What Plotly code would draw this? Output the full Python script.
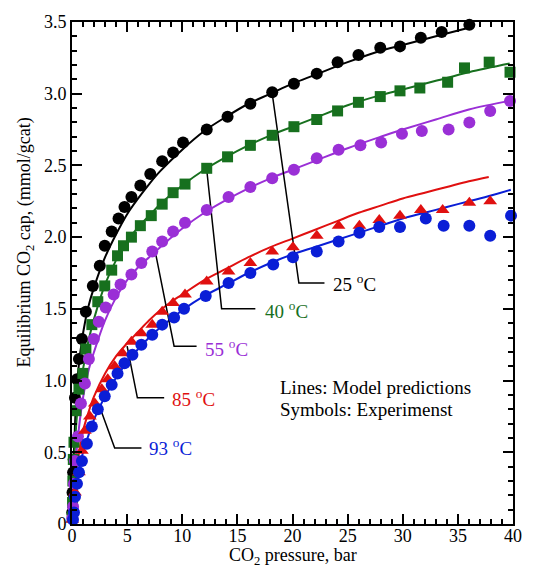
import plotly.graph_objects as go

# ---------------- data ----------------
# Experimental points (pressure in bar, capacity in mmol/gcat)
x25 = [0.02, 0.05, 0.1, 0.15, 0.27, 0.45, 0.63, 0.90, 1.26, 1.89, 2.52, 2.97, 3.60, 4.22, 4.76,
       5.39, 6.20, 7.10, 8.18, 9.17, 10.07, 12.22, 14.11, 16.18, 18.16, 20.13, 22.20, 24.09,
       25.98, 27.96, 29.75, 31.64, 33.53, 36.04]
y25 = [0.08, 0.22, 0.36, 0.45, 0.88, 1.01, 1.15, 1.29, 1.48, 1.66, 1.80, 1.94, 2.04, 2.13, 2.21,
       2.28, 2.36, 2.44, 2.53, 2.59, 2.66, 2.75, 2.84, 2.93, 3.01, 3.07, 3.14, 3.22,
       3.27, 3.32, 3.33, 3.39, 3.43, 3.48]

x40 = [0.02, 0.05, 0.08, 0.12, 0.18, 0.36, 0.63, 0.99, 1.26, 1.80, 2.34, 2.97, 3.60, 4.13, 4.67,
       5.39, 6.20, 7.19, 8.18, 9.17, 10.25, 12.22, 14.11, 16.18, 18.16, 20.13, 22.20, 24.09,
       25.98, 27.96, 29.75, 31.55, 34.07, 35.60, 37.84, 39.73]
y40 = [0.05, 0.15, 0.30, 0.45, 0.57, 0.79, 0.94, 1.05, 1.22, 1.39, 1.55, 1.66, 1.77, 1.87, 1.94,
       2.00, 2.08, 2.15, 2.23, 2.31, 2.37, 2.48, 2.56, 2.64, 2.71, 2.77, 2.82, 2.88,
       2.94, 2.98, 3.02, 3.04, 3.08, 3.18, 3.22, 3.15]

x55 = [0.03, 0.10, 0.18, 0.27, 0.54, 0.81, 1.17, 1.53, 1.98, 2.43, 3.06, 3.78, 4.40, 5.39, 6.29,
       7.28, 8.18, 9.17, 10.25, 12.22, 14.20, 16.18, 18.16, 20.13, 22.20, 24.18, 26.16, 28.04,
       29.93, 31.73, 34.16, 36.04, 37.93, 39.73]
y55 = [0.04, 0.12, 0.28, 0.44, 0.61, 0.84, 0.98, 1.15, 1.29, 1.41, 1.51, 1.60, 1.67, 1.74, 1.82,
       1.90, 1.97, 2.04, 2.10, 2.19, 2.28, 2.35, 2.41, 2.47, 2.55, 2.61, 2.64, 2.66,
       2.72, 2.74, 2.75, 2.80, 2.88, 2.95]

x85 = [0.02, 0.27, 0.63, 0.90, 1.17, 1.62, 2.07, 2.70, 3.24, 3.87, 4.58, 5.39, 6.29, 7.28, 8.18,
       9.17, 10.25, 12.22, 14.20, 16.18, 18.16, 20.04, 22.20, 24.18, 26.07, 27.87, 29.75,
       31.64, 33.62, 36.04, 37.93]
y85 = [0.03, 0.22, 0.36, 0.51, 0.65, 0.75, 0.84, 0.94, 1.01, 1.10, 1.19, 1.27, 1.33, 1.39, 1.48,
       1.54, 1.60, 1.69, 1.76, 1.82, 1.90, 1.93, 2.01, 2.08, 2.08, 2.12, 2.15,
       2.19, 2.19, 2.24, 2.25]

x93 = [0.09, 0.18, 0.27, 0.45, 0.63, 0.90, 1.35, 1.80, 2.34, 2.97, 3.60, 4.13, 4.76, 5.48, 6.29,
       7.28, 8.18, 9.26, 10.16, 12.13, 14.20, 16.18, 18.25, 20.04, 22.20, 24.18, 26.07, 27.87,
       29.75, 32.09, 33.71, 36.04, 37.93, 39.82]
y93 = [0.03, 0.08, 0.19, 0.28, 0.36, 0.44, 0.56, 0.68, 0.80, 0.89, 0.97, 1.05, 1.12, 1.18, 1.25,
       1.32, 1.39, 1.44, 1.50, 1.59, 1.68, 1.75, 1.81, 1.86, 1.90, 1.97, 2.03, 2.07,
       2.07, 2.13, 2.08, 2.08, 2.01, 2.15]

# Model predictions (lines)
mx25 = [0, 0.1, 0.2, 0.5, 1, 1.5, 2, 3, 4, 5, 6, 7, 8, 10, 12, 14, 16, 18, 20, 22, 25, 28, 30, 33, 36]
my25 = [0, 0.35, 0.55, 1.02, 1.33, 1.52, 1.65, 1.86, 2.02, 2.16, 2.27, 2.37, 2.46, 2.61, 2.74, 2.84,
        2.93, 3.00, 3.07, 3.13, 3.22, 3.30, 3.34, 3.40, 3.46]

mx40 = [0, 0.1, 0.2, 0.5, 1, 1.5, 2, 3, 4, 5, 6, 7, 8, 10, 12, 14, 16, 18, 20, 22, 25, 28, 30, 33, 36, 39.7]
my40 = [0, 0.28, 0.45, 0.80, 1.08, 1.28, 1.43, 1.67, 1.84, 1.97, 2.07, 2.15, 2.23, 2.36, 2.47, 2.56,
        2.64, 2.71, 2.77, 2.83, 2.92, 2.99, 3.03, 3.09, 3.15, 3.21]

mx55 = [0, 0.3, 0.6, 1, 1.5, 2, 3, 4, 5, 6, 7, 8, 10, 12, 14, 16, 18, 20, 22, 25, 28, 30, 33, 36, 39.7]
my55 = [0, 0.40, 0.65, 0.88, 1.07, 1.20, 1.42, 1.58, 1.70, 1.79, 1.86, 1.93, 2.06, 2.17, 2.26, 2.34,
        2.41, 2.47, 2.53, 2.62, 2.70, 2.75, 2.82, 2.89, 2.95]

mx85 = [0, 0.3, 0.7, 1, 1.5, 2, 3, 4, 5, 6, 7, 8, 9, 10, 12, 14, 16, 18, 20, 22, 24, 26, 28, 30, 32,
        34, 36, 37.8]
my85 = [0, 0.30, 0.53, 0.65, 0.78, 0.89, 1.05, 1.17, 1.26, 1.34, 1.42, 1.49, 1.55, 1.60, 1.70, 1.78,
        1.86, 1.93, 1.99, 2.05, 2.11, 2.17, 2.22, 2.27, 2.31, 2.35, 2.39, 2.42]

mx93 = [0, 0.3, 0.7, 1, 1.5, 2, 3, 4, 5, 6, 7, 8, 9, 10, 12, 14, 16, 18, 20, 22, 24, 26, 28, 30, 32,
        34, 36, 38, 39.8]
my93 = [0, 0.22, 0.40, 0.50, 0.62, 0.73, 0.89, 1.02, 1.13, 1.22, 1.30, 1.37, 1.43, 1.49, 1.59, 1.67,
        1.75, 1.82, 1.88, 1.93, 1.98, 2.03, 2.08, 2.13, 2.17, 2.21, 2.25, 2.29, 2.33]

labels = ["25 <sup>o</sup>C", "40 <sup>o</sup>C", "55 <sup>o</sup>C", "85 <sup>o</sup>C", "93 <sup>o</sup>C"]
xticks = [0, 5, 10, 15, 20, 25, 30, 35, 40]
yticks = [0, 0.5, 1.0, 1.5, 2.0, 2.5, 3.0, 3.5]
yticktext = ["0", "0.5", "1.0", "1.5", "2.0", "2.5", "3.0", "3.5"]

# ---------------- styling ----------------
colors = ["#000000", "#17701e", "#9a2fd6", "#e01010", "#0a1ed6"]
symbols = ["circle", "square", "circle", "triangle-up", "circle"]
FONT = "Liberation Serif"

# leader lines: (start on curve) -> (elbow) -> (end), label position
leaders = [
    ([18.16, 20.58, 22.9], [3.00, 1.68, 1.68], (23.5, 1.68)),
    ([12.22, 13.57, 16.63], [2.47, 1.50, 1.50], (17.3, 1.49)),
    ([7.6, 9.26, 11.3], [1.88, 1.24, 1.24], (11.9, 1.23)),
    ([5.0, 5.93, 8.36], [1.24, 0.88, 0.88], (8.9, 0.88)),
    ([2.5, 3.87, 6.3], [0.82, 0.53, 0.53], (6.8, 0.54)),
]

fig = go.Figure()

model = [(mx25, my25), (mx40, my40), (mx55, my55), (mx85, my85), (mx93, my93)]
expt = [(x25, y25), (x40, y40), (x55, y55), (x85, y85), (x93, y93)]

for (mx, my), c in zip(model, colors):
    fig.add_trace(go.Scatter(x=mx, y=my, mode="lines", line=dict(color=c, width=2, shape="spline"),
                             showlegend=False, hoverinfo="skip"))

for (lx, ly, _), c in zip(leaders, colors):
    fig.add_trace(go.Scatter(x=lx, y=ly, mode="lines", line=dict(color="black", width=1.5),
                             showlegend=False, hoverinfo="skip"))

for (ex, ey), c, s in zip(expt, colors, symbols):
    fig.add_trace(go.Scatter(x=ex, y=ey, mode="markers", cliponaxis=False,
                             marker=dict(color=c, symbol=s, size=12 if s != "square" else 11,
                                         line=dict(width=0)),
                             showlegend=False))

annotations = []
for (lx, ly, (tx, ty)), c, lab in zip(leaders, colors, labels):
    annotations.append(dict(x=tx, y=ty, xref="x", yref="y", text=lab, showarrow=False,
                            xanchor="left", yanchor="middle",
                            font=dict(family=FONT, size=19, color=c)))

annotations.append(dict(x=18.7, y=0.955, xref="x", yref="y", text="Lines: Model predictions",
                        showarrow=False, xanchor="left", yanchor="middle",
                        font=dict(family=FONT, size=19, color="black")))
annotations.append(dict(x=18.7, y=0.795, xref="x", yref="y", text="Symbols: Experimenst",
                        showarrow=False, xanchor="left", yanchor="middle",
                        font=dict(family=FONT, size=19, color="black")))
# axis titles
annotations.append(dict(x=0.5, y=-0.091, xref="paper", yref="paper",
                        text="CO<sub>2</sub> pressure, bar", showarrow=False,
                        xanchor="center", yanchor="bottom",
                        font=dict(family=FONT, size=18, color="black")))
annotations.append(dict(x=-0.105, y=0.56, xref="paper", yref="paper",
                        text="Equilibrium CO<sub>2</sub> cap, (mmol/gcat)", showarrow=False,
                        textangle=-90, xanchor="center", yanchor="middle",
                        font=dict(family=FONT, size=18, color="black")))

axis_common = dict(showgrid=False, zeroline=False, showline=True, linecolor="black", linewidth=2,
                   mirror="ticks", ticks="inside", ticklen=10, tickwidth=1.5, tickcolor="black",
                   tickfont=dict(family=FONT, size=18, color="black"))

fig.update_layout(
    width=534, height=568,
    margin=dict(l=72, r=15, t=17, b=44),
    paper_bgcolor="white", plot_bgcolor="white",
    annotations=annotations,
    xaxis=dict(range=[0, 40], tickvals=xticks, ticktext=[str(v) for v in xticks],
               ticklabelstandoff=-6,
               minor=dict(ticks="inside", ticklen=5, dtick=1, tickwidth=1.5, tickcolor="black"),
               **axis_common),
    yaxis=dict(range=[0, 3.5], tickvals=yticks, ticktext=yticktext,
               minor=dict(ticks="inside", ticklen=5, dtick=0.1, tickwidth=1.5, tickcolor="black"),
               **axis_common),
)

fig.write_html("out.html")
